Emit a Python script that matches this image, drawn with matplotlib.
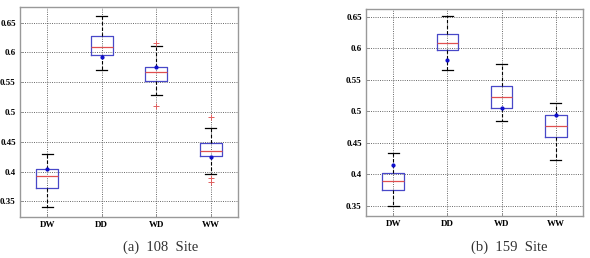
import matplotlib
matplotlib.use("Agg")
import matplotlib.pyplot as plt

# ===== data
labels = ["DW", "DD", "WD", "WW"]

# (a) 108 Site
a_low = [0.340, 0.571, 0.528, 0.396]
a_q1 = [0.372, 0.595, 0.552, 0.426]
a_med = [0.392, 0.609, 0.567, 0.435]
a_q3 = [0.405, 0.628, 0.575, 0.448]
a_high = [0.430, 0.661, 0.610, 0.473]
a_mean = [0.405, 0.593, 0.575, 0.425]
a_out = [[], [], [0.616, 0.510], [0.491, 0.389, 0.383]]

# (b) 159 Site
b_low = [0.349, 0.566, 0.484, 0.423]
b_q1 = [0.375, 0.598, 0.505, 0.459]
b_med = [0.390, 0.608, 0.522, 0.477]
b_q3 = [0.402, 0.623, 0.541, 0.494]
b_high = [0.433, 0.651, 0.575, 0.514]
b_mean = [0.414, 0.582, 0.505, 0.494]
b_out = [[], [], [], []]

serif = ["Liberation Serif", "DejaVu Serif"]


def draw_panel(ax, low, q1, med, q3, high, mean, out, ylim):
    stats = []
    for i in range(len(labels)):
        stats.append(dict(whislo=low[i], q1=q1[i], med=med[i], q3=q3[i],
                          whishi=high[i], fliers=out[i], label=labels[i]))
    ax.bxp(stats, positions=range(1, 5), widths=0.4, showfliers=True,
           boxprops=dict(color="#4848c8", lw=0.9),
           medianprops=dict(color="#e05050", lw=0.9),
           whiskerprops=dict(color="black", lw=0.8, ls=(0, (3, 2))),
           capprops=dict(color="black", lw=0.9),
           flierprops=dict(marker="+", markeredgecolor="#e06060",
                           markersize=4.5, lw=0, markeredgewidth=0.7),
           zorder=3)
    ax.plot(range(1, 5), mean, "o", color="#1010cc", markersize=2, zorder=4)

    ax.set_xlim(0.5, 4.5)
    ax.set_ylim(*ylim)
    ax.set_yticks([0.35, 0.4, 0.45, 0.5, 0.55, 0.6, 0.65])
    ax.set_yticklabels(["0.35", "0.4", "0.45", "0.5", "0.55", "0.6", "0.65"])
    ax.grid(True, color="#555555", ls=(0, (1.2, 1.5)), lw=0.6)
    ax.set_axisbelow(True)
    ax.tick_params(direction="in", length=2, width=0.6, pad=3,
                   color="#888888")
    for lab in ax.get_xticklabels() + ax.get_yticklabels():
        lab.set_fontfamily(serif)
        lab.set_fontweight("bold")
        lab.set_fontsize(6.5)
    for sp in ax.spines.values():
        sp.set_color("#999999")
        sp.set_linewidth(1.0)


fig = plt.figure(figsize=(5.9, 2.58), dpi=100)
ax1 = fig.add_axes([20 / 590, 1 - 217 / 258, 218 / 590, 210 / 258])
ax2 = fig.add_axes([366 / 590, 1 - 216 / 258, 217 / 590, 207 / 258])

draw_panel(ax1, a_low, a_q1, a_med, a_q3, a_high, a_mean, a_out,
           (0.324, 0.676))
draw_panel(ax2, b_low, b_q1, b_med, b_q3, b_high, b_mean, b_out,
           (0.3336, 0.6627))

fig.text(161 / 590, 1 - 247 / 258, "(a)  108  Site", ha="center",
         va="center", fontsize=10.5, family=serif, color="#333333")
fig.text(509 / 590, 1 - 247 / 258, "(b)  159  Site", ha="center",
         va="center", fontsize=10.5, family=serif, color="#333333")

fig.savefig("out.png", dpi=100)
